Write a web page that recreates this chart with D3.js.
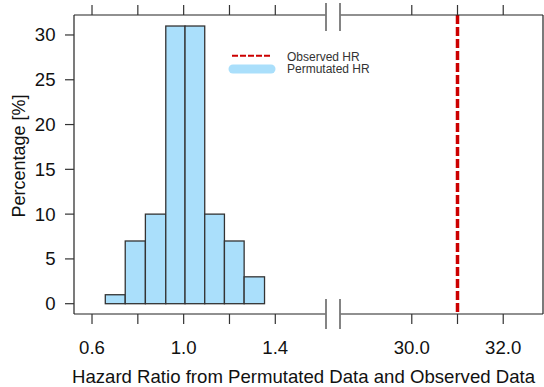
<!DOCTYPE html>
<html>
<head>
<meta charset="utf-8">
<script src="https://cdn.jsdelivr.net/npm/d3@7"></script>
<style>
  html, body { margin: 0; padding: 0; background: #fff; }
  svg { display: block; font-family: "Liberation Sans", Arial, sans-serif; }
</style>
</head>
<body>
<div id="chart"></div>
<script>
// histogram of permutated hazard ratios
const binEdges = [0.658, 0.745, 0.833, 0.922, 1.006, 1.092, 1.178, 1.264, 1.353];
const percents = [1, 7, 10, 31, 31, 10, 7, 3];
const observedHR = 31.0;

// axis ticks
const leftTicks = [0.6, 0.8, 1.0, 1.2, 1.4];
const leftLabels = [0.6, 1.0, 1.4];
const rightTicks = [30, 31, 32];
const rightLabels = [30, 32];
const yTicks = [0, 5, 10, 15, 20, 25, 30];

const width = 544, height = 387;
const box = { left: 74, right: 543, top: 15, bottom: 314 };
const gapL = 326, gapR = 340; // broken axis

const svg = d3.select('#chart').append('svg')
  .attr('width', width)
  .attr('height', height);

// two x segments
const xl = d3.scaleLinear().domain([0.5214, 1.6213]).range([box.left, gapL]);
const xr = d3.scaleLinear().domain([28.43, 32.87]).range([gapR, box.right]);
const y = d3.scaleLinear().domain([-1.15, 32.23]).range([box.bottom, box.top]);

const barFill = '#aadffb';
const lineCol = '#222';

// bars
svg.selectAll('rect.bar')
  .data(percents)
  .enter()
  .append('rect')
  .attr('class', 'bar')
  .attr('x', (d, i) => xl(binEdges[i]))
  .attr('width', (d, i) => xl(binEdges[i + 1]) - xl(binEdges[i]))
  .attr('y', d => y(d))
  .attr('height', d => y(0) - y(d))
  .attr('fill', barFill)
  .attr('stroke', '#333')
  .attr('stroke-width', 1.3);

// observed HR line
svg.append('line')
  .attr('x1', xr(observedHR)).attr('x2', xr(observedHR))
  .attr('y1', box.top).attr('y2', box.bottom)
  .attr('stroke', '#cc0000')
  .attr('stroke-width', 3.5)
  .attr('stroke-dasharray', '9,3');

// box with gaps
const frame = svg.append('g')
  .attr('fill', 'none')
  .attr('stroke', lineCol)
  .attr('stroke-width', 1.2);
[box.top, box.bottom].forEach(yy => {
  frame.append('line').attr('x1', box.left).attr('x2', gapL).attr('y1', yy).attr('y2', yy);
  frame.append('line').attr('x1', gapR).attr('x2', box.right).attr('y1', yy).attr('y2', yy);
});
frame.append('line').attr('x1', box.left).attr('x2', box.left).attr('y1', box.top).attr('y2', box.bottom);
frame.append('line').attr('x1', box.right).attr('x2', box.right).attr('y1', box.top).attr('y2', box.bottom);

// break marks
const breaks = svg.append('g').attr('stroke', '#777').attr('stroke-width', 1.8);
[gapL, gapR].forEach(xx => {
  breaks.append('line').attr('x1', xx).attr('x2', xx).attr('y1', 3).attr('y2', 31);
  breaks.append('line').attr('x1', xx).attr('x2', xx).attr('y1', 299).attr('y2', 329);
});

// x ticks (top and bottom)
const tickG = svg.append('g').attr('stroke', '#333').attr('stroke-width', 1.2);
const xTickPos = leftTicks.map(v => xl(v)).concat(rightTicks.map(v => xr(v)));
xTickPos.forEach(px => {
  tickG.append('line').attr('x1', px).attr('x2', px).attr('y1', box.top).attr('y2', box.top - 10);
  tickG.append('line').attr('x1', px).attr('x2', px).attr('y1', box.bottom).attr('y2', box.bottom + 10);
});

// y ticks
yTicks.forEach(v => {
  tickG.append('line').attr('x1', box.left).attr('x2', box.left - 9).attr('y1', y(v)).attr('y2', y(v));
});

const labels = svg.append('g').attr('fill', '#111').attr('font-size', 18.6);

leftLabels.forEach(v => {
  labels.append('text').attr('x', xl(v)).attr('y', 347.5).attr('dy', '0.35em')
    .attr('text-anchor', 'middle').text(d3.format('.1f')(v));
});
rightLabels.forEach(v => {
  labels.append('text').attr('x', xr(v)).attr('y', 347.5).attr('dy', '0.35em')
    .attr('text-anchor', 'middle').text(d3.format('.1f')(v));
});
yTicks.forEach(v => {
  labels.append('text').attr('x', 55.5).attr('y', y(v)).attr('dy', '0.35em')
    .attr('text-anchor', 'end').text(v);
});

// axis titles
labels.append('text')
  .attr('x', 72).attr('y', 376).attr('dy', '0.35em')
  .attr('font-size', 18.6)
  .attr('text-anchor', 'start')
  .text('Hazard Ratio from Permutated Data and Observed Data');
labels.append('text')
  .attr('transform', 'translate(19,156) rotate(-90)')
  .attr('dy', '0.35em')
  .attr('font-size', 18)
  .attr('text-anchor', 'middle')
  .text('Percentage [%]');

// legend
const legend = svg.append('g');
legend.append('line')
  .attr('x1', 232).attr('x2', 270).attr('y1', 55.7).attr('y2', 55.7)
  .attr('stroke', '#cc0000').attr('stroke-width', 2)
  .attr('stroke-dasharray', '6,2');
legend.append('line')
  .attr('x1', 233).attr('x2', 271).attr('y1', 69).attr('y2', 69)
  .attr('stroke', barFill).attr('stroke-width', 9)
  .attr('stroke-linecap', 'round');
legend.append('text').attr('x', 287).attr('y', 56.5).attr('dy', '0.35em')
  .attr('font-size', 12).attr('fill', '#333').text('Observed HR');
legend.append('text').attr('x', 287).attr('y', 69).attr('dy', '0.35em')
  .attr('font-size', 12).attr('fill', '#333').text('Permutated HR');
</script>
</body>
</html>
